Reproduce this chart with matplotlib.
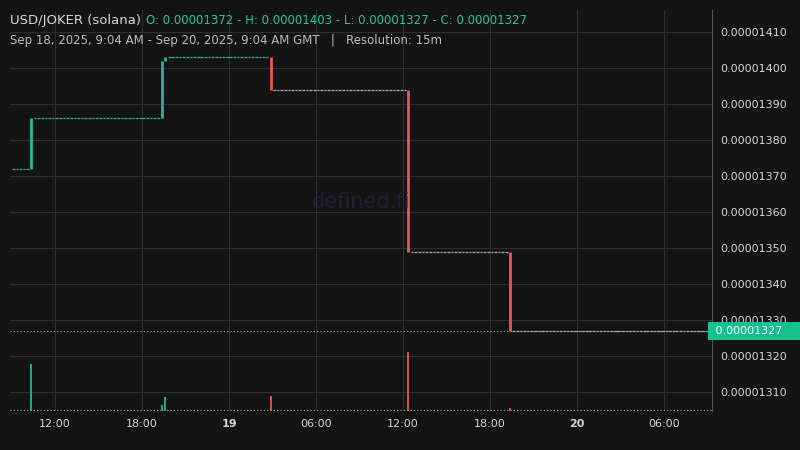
import datetime as dt

import matplotlib
matplotlib.use("Agg")
import matplotlib.pyplot as plt
import matplotlib.dates as mdates

BG = "#131313"
UP = "#26b894"
DOWN = "#f05454"
GRID = "#2e2e2e"
TXT = "#d6d6d6"

# price steps: (time, new close); flat in between
start = dt.datetime(2025, 9, 18, 9, 0)
end = dt.datetime(2025, 9, 20, 9, 0)
open_price = 0.00001372
step_times = ["2025-09-18 10:15", "2025-09-18 19:15", "2025-09-18 19:30",
              "2025-09-19 02:45", "2025-09-19 12:15", "2025-09-19 19:15"]
step_prices = [0.00001386, 0.00001402, 0.00001403, 0.00001394, 0.00001349, 0.00001327]
step_volumes = [47, 6, 14, 15, 59, 3]

steps = [dt.datetime.strptime(s, "%Y-%m-%d %H:%M") for s in step_times]

fig = plt.figure(figsize=(8, 4.5), dpi=100, facecolor=BG)
ax = fig.add_axes([0.0125, 0.087, 0.8775, 0.891], facecolor=BG)
vax = fig.add_axes([0.0125, 0.087, 0.8775, 0.891], facecolor="none", sharex=ax)

w = dt.timedelta(minutes=15)
t = start
price = open_price
color = UP
i = 0
while t < end:
    if i < len(steps) and t >= steps[i]:
        newp = step_prices[i]
        color = UP if newp > price else DOWN
        x = mdates.date2num(t + dt.timedelta(minutes=7))
        ax.vlines(x, min(price, newp), max(price, newp), color=color, lw=2)
        vax.bar(x, step_volumes[i], width=8 / 1440, color=color, alpha=0.9)
        price = newp
        i += 1
    else:
        c = UP if color == UP else "#aab0b0"
        ax.hlines(price, mdates.date2num(t + dt.timedelta(minutes=2)),
                  mdates.date2num(t + dt.timedelta(minutes=13)), color=c, lw=0.9)
    t += w

ax.set_xlim(mdates.date2num(dt.datetime(2025, 9, 18, 8, 54)), mdates.date2num(dt.datetime(2025, 9, 20, 9, 18)))
ax.set_ylim(0.000013047, 0.000014162)
vax.set_ylim(0, 59 / 0.147)
vax.axis("off")

ax.yaxis.tick_right()
ticks = [0.00001310 + k * 0.0000001 for k in range(11)]
ax.set_yticks(ticks)
ax.set_yticklabels([f"{v:.8f}" for v in ticks])
ax.set_xticks([mdates.date2num(dt.datetime(2025, 9, 18, 12) + dt.timedelta(hours=6 * k)) for k in range(8)])
ax.set_xticklabels(["12:00", "18:00", "19", "06:00", "12:00", "18:00", "20", "06:00"])
for lbl in ax.get_xticklabels():
    if lbl.get_text() in ("19", "20"):
        lbl.set_fontweight("bold")
ax.tick_params(colors=TXT, labelsize=8, length=0, pad=6)
ax.grid(True, color=GRID, lw=0.8)
ax.set_axisbelow(True)
for side, sp in ax.spines.items():
    sp.set_visible(side == "right")
    sp.set_color("#555555")

ax.axhline(0.00001327, color="#aaaaaa", lw=0.8, ls=(0, (1, 2)))
ax.axhline(0.000013049, color="#aaaaaa", lw=0.8, ls=(0, (1, 2)))
ax.text(1.0, 0.00001327, " 0.00001327      ", transform=ax.get_yaxis_transform(), color="white",
        fontsize=8, va="center", ha="left",
        bbox=dict(boxstyle="square,pad=0.35", fc="#17c08e", ec="none"))

ax.text(0.5, 0.52, "defined.fi", transform=ax.transAxes, color="#202035", fontsize=15,
        ha="center", va="center")

fig.text(0.012, 0.955, "USD/JOKER (solana)", color=TXT, fontsize=9.5, va="center")
fig.text(0.182, 0.955, "O: 0.00001372 - H: 0.00001403 - L: 0.00001327 - C: 0.00001327",
         color="#26c79a", fontsize=8.5, va="center")
fig.text(0.012, 0.91, "Sep 18, 2025, 9:04 AM - Sep 20, 2025, 9:04 AM GMT   |   Resolution: 15m",
         color="#bbbbbb", fontsize=8.5, va="center")

fig.savefig("out.png", facecolor=BG)
